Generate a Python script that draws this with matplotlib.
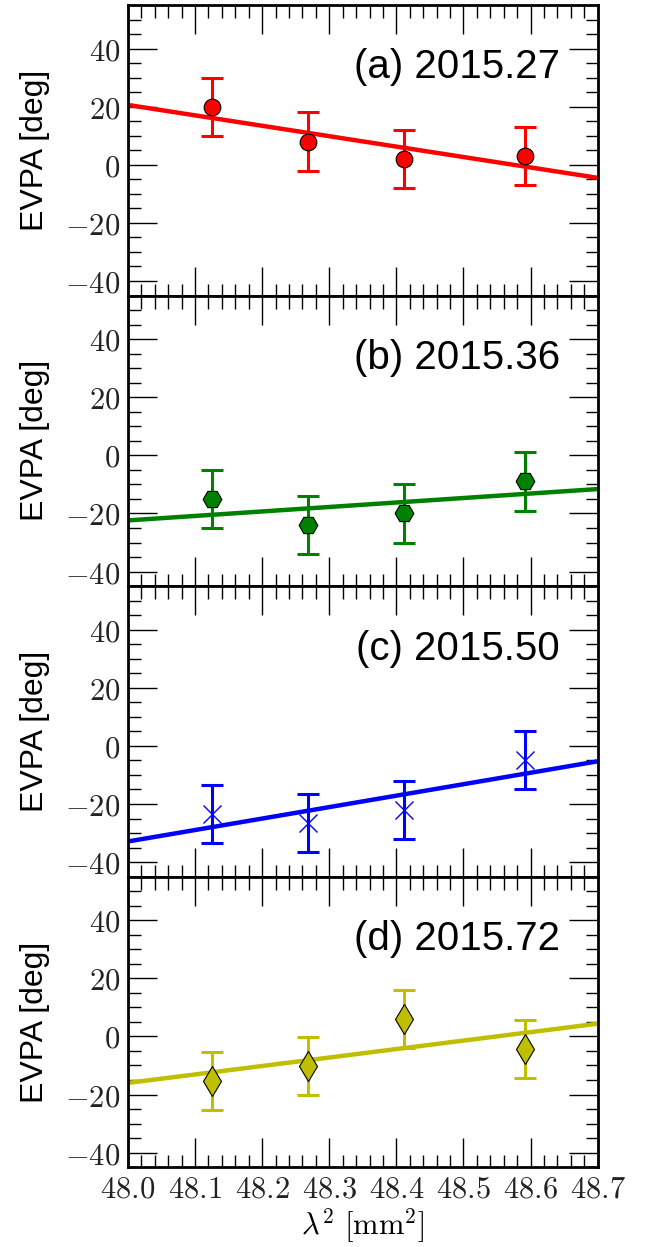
import matplotlib
matplotlib.use('Agg')
import matplotlib.pyplot as plt
from matplotlib.ticker import MultipleLocator, FuncFormatter

plt.rcParams['mathtext.fontset'] = 'cm'
plt.rcParams['font.family'] = ['Liberation Sans', 'DejaVu Sans']

# wavelength squared of the four bands [mm^2]
lam2 = [48.126, 48.269, 48.412, 48.592]

epochs = ['(a) 2015.27', '(b) 2015.36', '(c) 2015.50', '(d) 2015.72']
evpa_a = [20.0, 8.0, 2.0, 3.0]
evpa_b = [-15.0, -24.0, -20.0, -9.0]
evpa_c = [-23.3, -26.4, -22.2, -5.0]
evpa_d = [-15.2, -10.2, 5.9, -4.2]
evpa_err = [10.0, 10.0, 10.0, 10.0]

# fitted lines, evaluated at the plot edges
fit_x = [48.0, 48.7]
fit_a = [20.6, -4.5]
fit_b = [-22.4, -11.6]
fit_c = [-32.9, -5.3]
fit_d = [-16.0, 4.4]

series = [evpa_a, evpa_b, evpa_c, evpa_d]
fits = [fit_a, fit_b, fit_c, fit_d]
colors = ['r', 'g', 'b', 'y']
markers = ['o', 'H', 'x', 'd']
msizes = [12, 13.5, 13, 15]

fig = plt.figure(figsize=(6.49, 12.47), dpi=100)
axes = fig.subplots(4, 1, sharex=True)
fig.subplots_adjust(left=0.197, right=0.921, top=0.996, bottom=0.064, hspace=0)

for ax, y, fit, c, m, ms, lab in zip(axes, series, fits, colors, markers, msizes, epochs):
    ax.plot(fit_x, fit, color=c, lw=3.2, zorder=2)
    ax.errorbar(lam2, y, yerr=evpa_err, fmt='none', ecolor=c, elinewidth=2.2,
                capsize=8, capthick=2.2, zorder=3)
    if m == 'x':
        ax.plot(lam2, y, ls='none', marker=m, ms=ms, color=c, mew=1.0, zorder=4)
    else:
        ax.plot(lam2, y, ls='none', marker=m, ms=ms, mfc=c, mec='k', mew=0.8, zorder=4)

    ax.set_xlim(48.0, 48.7)
    ax.set_ylim(-45, 55)
    ax.xaxis.set_major_locator(MultipleLocator(0.1))
    ax.xaxis.set_minor_locator(MultipleLocator(0.02))
    ax.yaxis.set_major_locator(MultipleLocator(20))
    ax.yaxis.set_minor_locator(MultipleLocator(5))
    ax.yaxis.set_major_formatter(FuncFormatter(lambda v, p: '$%d$' % v))
    ax.xaxis.set_major_formatter(FuncFormatter(lambda v, p: '$%.1f$' % v))
    ax.tick_params(which='both', direction='in', top=True, right=True,
                   labelsize=22, labelcolor='#222222', pad=5.5)
    ax.tick_params(which='major', length=21, width=1.0)
    ax.tick_params(which='minor', length=9, width=1.0)
    for sp in ax.spines.values():
        sp.set_linewidth(2.0)

    ax.set_ylabel('EVPA [deg]', fontsize=23)
    ax.yaxis.set_label_coords(-0.166, 0.5)
    ax.text(0.92, 0.785, lab, transform=ax.transAxes, ha='right', va='center',
            fontsize=29)

axes[-1].set_xlabel(r'$\lambda^2\ [\mathrm{mm}^2]$', fontsize=22, labelpad=1)

fig.savefig('out.png', dpi=100)
